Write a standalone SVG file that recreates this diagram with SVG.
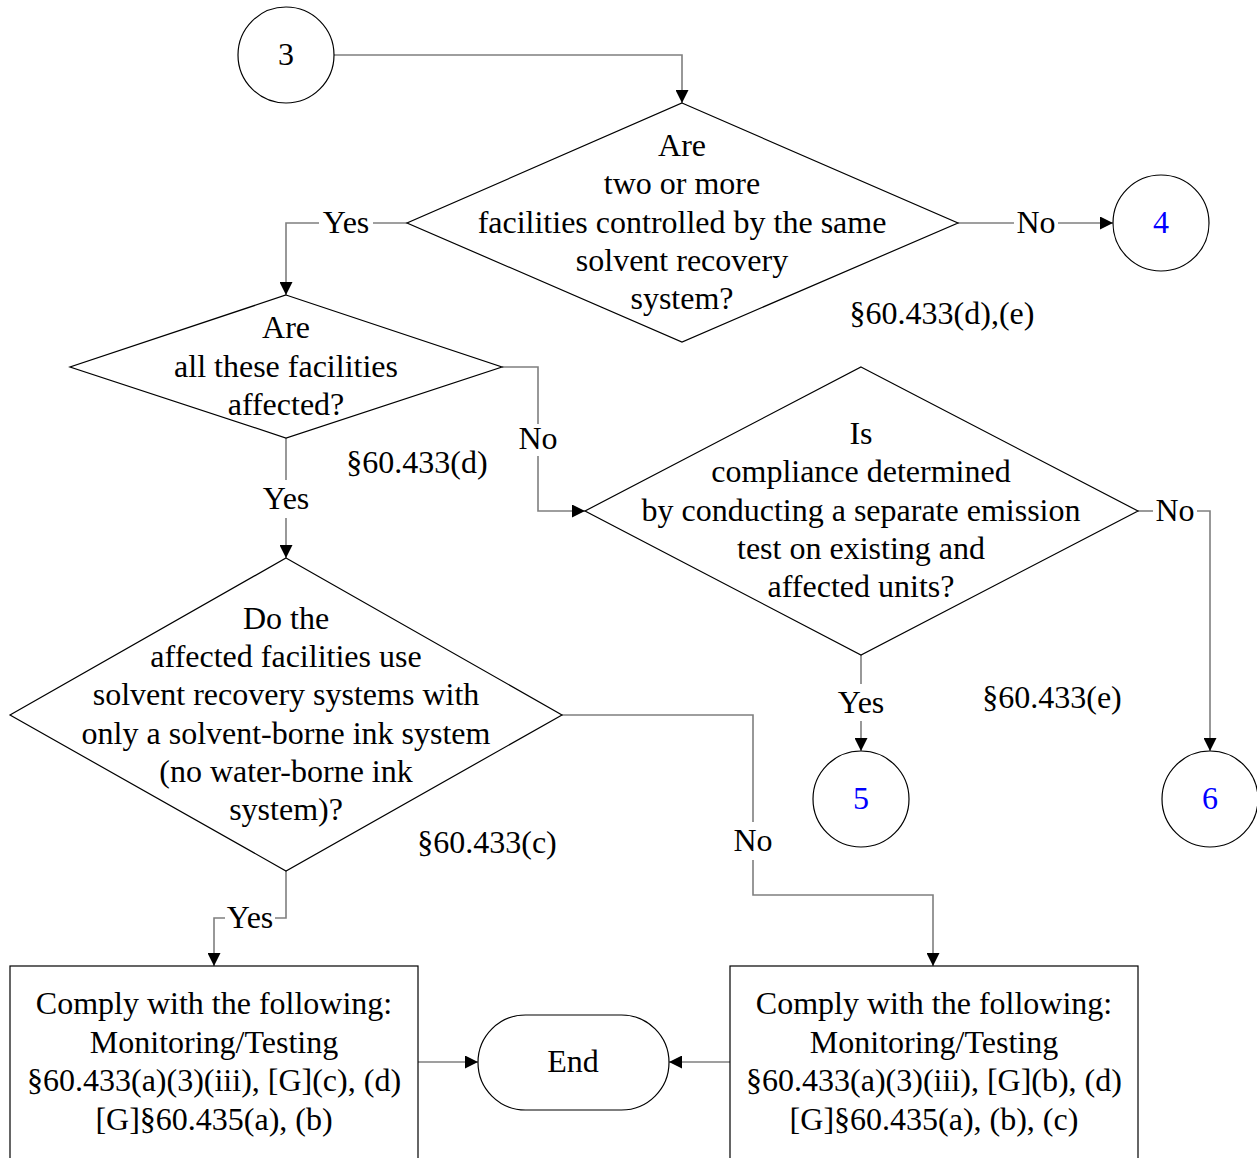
<svg xmlns="http://www.w3.org/2000/svg" width="1257" height="1158" viewBox="0 0 1257 1158">
<style>
text{font-family:"Liberation Serif","Times New Roman",serif;font-size:32px;fill:#000;text-anchor:middle}
.shape{fill:#fff;stroke:#000;stroke-width:1.2}
.conn{fill:none;stroke:#7f7f7f;stroke-width:1.6}
.blue{fill:#0000ff}
</style>
<defs>
<marker id="arr" viewBox="0 0 10 10" refX="10" refY="5" markerUnits="userSpaceOnUse" markerWidth="13" markerHeight="13" orient="auto">
<path d="M0,0 L10,5 L0,10 z" fill="#000"/>
</marker>
</defs>
<rect width="1257" height="1158" fill="#fff"/>
<g id="connectors">
<path class="conn" d="M334,55 H682 V103" marker-end="url(#arr)"/>
<path class="conn" d="M407,223 H373"/>
<path class="conn" d="M319,223 H286 V295" marker-end="url(#arr)"/>
<path class="conn" d="M958,223 H1014"/>
<path class="conn" d="M1058,223 H1113" marker-end="url(#arr)"/>
<path class="conn" d="M502,367 H538 V424"/>
<path class="conn" d="M538,456 V511 H585" marker-end="url(#arr)"/>
<path class="conn" d="M286,438 V480"/>
<path class="conn" d="M286,518 V558" marker-end="url(#arr)"/>
<path class="conn" d="M1138,511 H1153"/>
<path class="conn" d="M1197,511 H1210 V751" marker-end="url(#arr)"/>
<path class="conn" d="M861,655 V684"/>
<path class="conn" d="M861,721 V751" marker-end="url(#arr)"/>
<path class="conn" d="M562,715 H753 V822"/>
<path class="conn" d="M753,860 V895 H933 V966" marker-end="url(#arr)"/>
<path class="conn" d="M286,871 V918 H275"/>
<path class="conn" d="M225,918 H214 V966" marker-end="url(#arr)"/>
<path class="conn" d="M418,1062 H478" marker-end="url(#arr)"/>
<path class="conn" d="M730,1062 H669" marker-end="url(#arr)"/>
<text x="346" y="233">Yes</text>
<text x="1036" y="233">No</text>
<text x="538" y="449">No</text>
<text x="286" y="509">Yes</text>
<text x="1175" y="521">No</text>
<text x="861" y="713">Yes</text>
<text x="753" y="851">No</text>
<text x="250" y="928">Yes</text>
</g>
<g id="c3">
<circle class="shape" cx="286" cy="55" r="48"/>
<text x="286" y="65">3</text>
</g>
<g id="d1">
<polygon class="shape" points="682,103 958,223 682,342 407,223"/>
<text x="682" y="156">Are</text>
<text x="682" y="194">two or more</text>
<text x="682" y="233">facilities controlled by the same</text>
<text x="682" y="271">solvent recovery</text>
<text x="682" y="309">system?</text>
</g>
<g id="ref1"><text x="942" y="324">§60.433(d),(e)</text></g>
<g id="c4">
<circle class="shape" cx="1161" cy="223" r="48"/>
<text class="blue" x="1161" y="233">4</text>
</g>
<g id="d2">
<polygon class="shape" points="286,295 502,367 286,438 70,367"/>
<text x="286" y="338">Are</text>
<text x="286" y="377">all these facilities</text>
<text x="286" y="415">affected?</text>
</g>
<g id="ref2"><text x="417" y="473">§60.433(d)</text></g>
<g id="d3">
<polygon class="shape" points="861,367 1138,511 861,655 585,511"/>
<text x="861" y="444">Is</text>
<text x="861" y="482">compliance determined</text>
<text x="861" y="521">by conducting a separate emission</text>
<text x="861" y="559">test on existing and</text>
<text x="861" y="597">affected units?</text>
</g>
<g id="ref3"><text x="1052" y="708">§60.433(e)</text></g>
<g id="c5">
<circle class="shape" cx="861" cy="799" r="48"/>
<text class="blue" x="861" y="809">5</text>
</g>
<g id="c6">
<circle class="shape" cx="1210" cy="799" r="48"/>
<text class="blue" x="1210" y="809">6</text>
</g>
<g id="d4">
<polygon class="shape" points="286,558 562,715 286,871 10,715"/>
<text x="286" y="629">Do the</text>
<text x="286" y="667">affected facilities use</text>
<text x="286" y="705">solvent recovery systems with</text>
<text x="286" y="744">only a solvent-borne ink system</text>
<text x="286" y="782">(no water-borne ink</text>
<text x="286" y="820">system)?</text>
</g>
<g id="ref4"><text x="487" y="853">§60.433(c)</text></g>
<g id="box1">
<rect class="shape" x="10" y="966" width="408" height="220"/>
<text x="214" y="1014">Comply with the following:</text>
<text x="214" y="1053">Monitoring/Testing</text>
<text x="214" y="1091">§60.433(a)(3)(iii), [G](c), (d)</text>
<text x="214" y="1130">[G]§60.435(a), (b)</text>
</g>
<g id="box2">
<rect class="shape" x="730" y="966" width="408" height="220"/>
<text x="934" y="1014">Comply with the following:</text>
<text x="934" y="1053">Monitoring/Testing</text>
<text x="934" y="1091">§60.433(a)(3)(iii), [G](b), (d)</text>
<text x="934" y="1130">[G]§60.435(a), (b), (c)</text>
</g>
<g id="end">
<rect class="shape" x="478" y="1015" width="191" height="95" rx="47.5" ry="47.5"/>
<text x="573" y="1072">End</text>
</g>
</svg>
